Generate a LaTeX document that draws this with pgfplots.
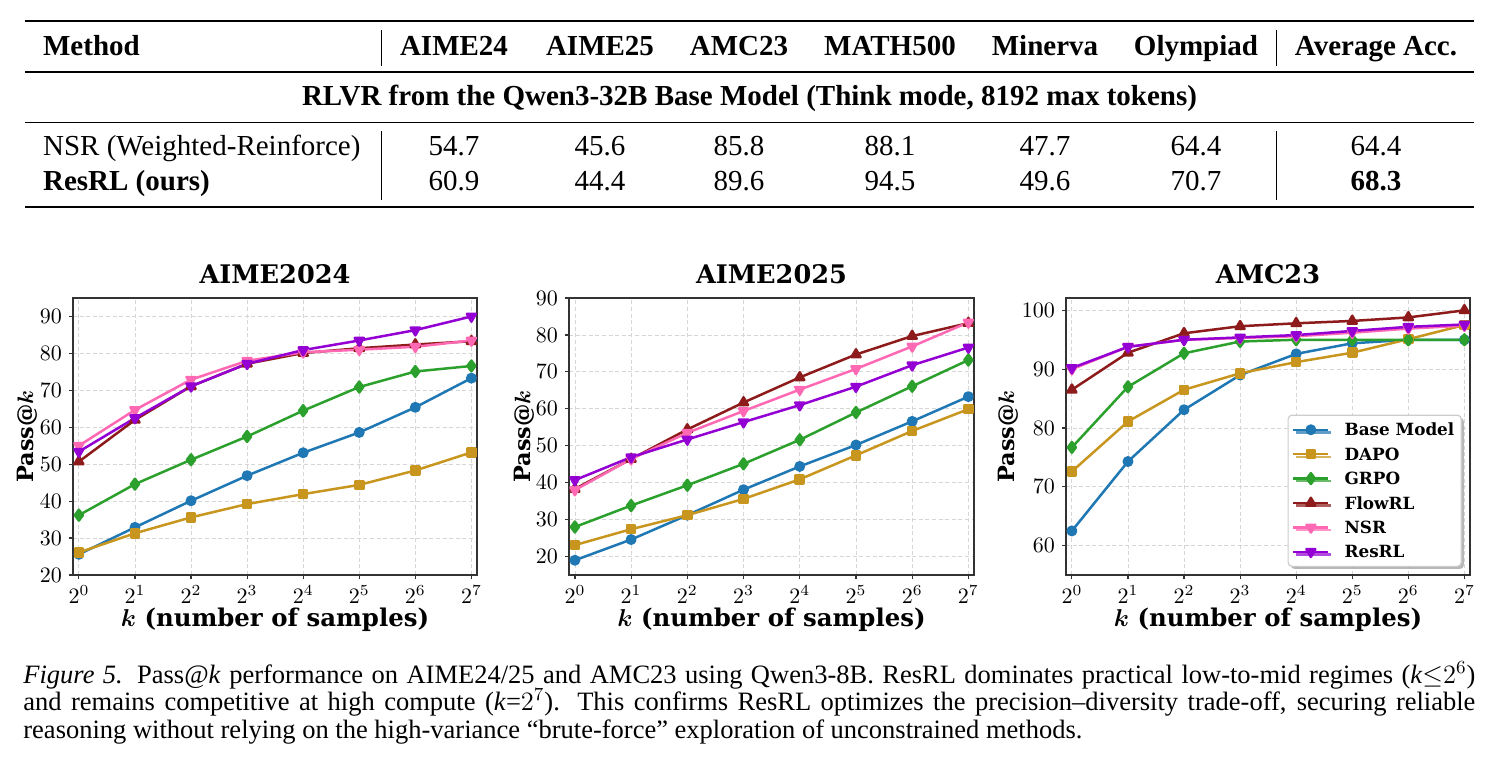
\RequirePackage{fix-cm}
\documentclass[border=0pt]{standalone}
\usepackage{fontspec}
\setmainfont{Liberation Serif}
\newfontfamily\djv{DejaVu Serif}
\usepackage{pgfplots}
\pgfplotsset{compat=1.18}
\usetikzlibrary{shadows}

\definecolor{cBase}{HTML}{1F77B4}
\definecolor{cDapo}{HTML}{C8961E}
\definecolor{cGrpo}{HTML}{2CA02C}
\definecolor{cFlow}{HTML}{8E1B1B}
\definecolor{cNsr}{HTML}{FF69B4}
\definecolor{cRes}{HTML}{9400D3}

\newcommand{\tabfont}{\fontsize{14.5}{17}\selectfont}
\newcommand{\capfont}{\fontsize{13.25}{16}\selectfont}

\pgfplotsset{
  passk/.style={
    scale only axis, width=202pt, height=138.5pt,
    anchor=north west, clip=false,
    xmin=-0.105, xmax=7.1,
    xtick={0,...,7},
    xticklabels={$2^{0}$,$2^{1}$,$2^{2}$,$2^{3}$,$2^{4}$,$2^{5}$,$2^{6}$,$2^{7}$},
    tick pos=left, tick align=outside, major tick length=2pt,
    grid=major,
    major grid style={dash pattern=on 2pt off 1.3pt, line width=0.4pt, black!16},
    axis line style={line width=0.6pt, black!80},
    tick style={line width=0.6pt, black!80},
    tick label style={font=\fontsize{11}{12}\selectfont},
    every axis title/.style={at={(axis description cs:0.5,1)}, anchor=center, yshift=12pt,
      font=\djv\bfseries\fontsize{12.8}{14}\selectfont},
    every axis x label/.style={at={(axis description cs:0.5,0)}, anchor=center, yshift=-22.5pt,
      font=\djv\bfseries\fontsize{12.2}{14}\selectfont},
    every axis y label/.style={anchor=center, rotate=90,
      font=\djv\bfseries\fontsize{11.2}{12}\selectfont},
    xlabel={{\boldmath$k$} (number of samples)},
    ylabel={Pass@{\boldmath$k$}},
    every axis plot/.append style={line width=1.25pt, line join=round},
    legend image code/.code={%
      \draw[mark repeat=2, mark phase=2, #1] plot coordinates {(0pt,0pt) (8.75pt,0pt) (17.5pt,0pt)};},
  },
  sBase/.style={color=cBase, mark=*, mark size=2.1pt},
  sDapo/.style={color=cDapo, mark=square*, mark size=2.0pt},
  sGrpo/.style={color=cGrpo, mark=diamond*, mark size=2.7pt},
  sFlow/.style={color=cFlow, mark=triangle*, mark size=2.6pt},
  sNsr/.style={color=cNsr, mark=triangle*, mark size=2.6pt, mark options={rotate=180}},
  sRes/.style={color=cRes, mark=triangle*, mark size=2.6pt, mark options={rotate=180}},
}

\begin{document}
\begin{tikzpicture}
\path[use as bounding box] (0,0) rectangle (748pt,-381pt);

% ---------------- table ----------------
\begin{scope}[x=0.5pt,y=-0.5pt]
  \draw[line width=1.15pt] (25,21) -- (1474,21);
  \draw[line width=0.7pt] (25,72) -- (1474,72);
  \draw[line width=0.7pt] (25,122.3) -- (1474,122.3);
  \draw[line width=1.15pt] (25,207.3) -- (1474,207.3);
  \foreach \xx in {381.7,1276.7}{
    \draw[line width=0.5pt] (\xx,30) -- (\xx,65.7);
    \draw[line width=0.5pt] (\xx,131) -- (\xx,200);
  }
  \begin{scope}[every node/.style={inner sep=0pt, font=\tabfont}]
    % header
    \node[anchor=base west] at (42.7,55.7) {\textbf{Method}};
    \foreach \xx/\tt in {454/AIME24, 600/AIME25, 739/AMC23, 890/MATH500, 1045/Minerva, 1196/Olympiad, 1376/Average Acc.}
      \node[anchor=base] at (\xx,55.7) {\textbf{\tt}};
    % group row
    \node[anchor=base] at (749.5,105.7) {\textbf{RLVR from the Qwen3-32B Base Model (Think mode, 8192 max tokens)}};
    % rows
    \node[anchor=base west] at (42.7,155) {NSR (Weighted-Reinforce)};
    \node[anchor=base west] at (42.7,190.7) {\textbf{ResRL (ours)}};
    \foreach \xx/\va/\vb in {454/54.7/60.9, 600/45.6/44.4, 739/85.8/89.6, 890/88.1/94.5, 1045/47.7/49.6, 1196/64.4/70.7}{
      \node[anchor=base] at (\xx,155) {\va};
      \node[anchor=base] at (\xx,190.7) {\vb};
    }
    \node[anchor=base] at (1376,155) {64.4};
    \node[anchor=base] at (1376,190.7) {\textbf{68.3}};
  \end{scope}

% ---------------- caption ----------------
  \begin{scope}[every node/.style={inner sep=0pt, font=\capfont, anchor=base west}]
    \node at (23,683) {\hbox to 726pt{\textit{Figure 5.} Pass@\textit{k} performance on AIME24/25 and AMC23 using Qwen3-8B. ResRL dominates practical low-to-mid regimes (\textit{k}$\leq$$2^{6}$)}};
    \node at (23,710.5) {\hbox to 726pt{and remains competitive at high compute (\textit{k}=$2^{7}$). This confirms ResRL optimizes the precision–diversity trade-off, securing reliable}};
    \node at (23,738) {reasoning without relying on the high-variance “brute-force” exploration of unconstrained methods.};
  \end{scope}
\end{scope}

% ---------------- AIME2024 ----------------
\begin{axis}[passk, at={(36.5pt,-149pt)}, title={AIME2024},
  ymin=20, ymax=95, ytick={20,30,...,90},
  ylabel style={at={(axis description cs:-0.114,0.5)}}]
  \addplot[sBase] coordinates {(0,25.6)(1,32.9)(2,40.1)(3,46.9)(4,53.1)(5,58.6)(6,65.4)(7,73.3)};
  \addplot[sDapo] coordinates {(0,26.1)(1,31.3)(2,35.6)(3,39.2)(4,41.9)(5,44.4)(6,48.3)(7,53.2)};
  \addplot[sGrpo] coordinates {(0,36.2)(1,44.6)(2,51.2)(3,57.5)(4,64.5)(5,70.9)(6,75.1)(7,76.6)};
  \addplot[sFlow] coordinates {(0,50.7)(1,62.0)(2,71.1)(3,77.2)(4,80.1)(5,81.4)(6,82.4)(7,83.3)};
  \addplot[sNsr]  coordinates {(0,55.0)(1,64.7)(2,72.9)(3,78.0)(4,80.3)(5,81.0)(6,81.8)(7,83.5)};
  \addplot[sRes]  coordinates {(0,53.4)(1,62.5)(2,71.1)(3,77.2)(4,80.9)(5,83.5)(6,86.3)(7,90.0)};
\end{axis}

% ---------------- AIME2025 ----------------
\begin{axis}[passk, at={(284.5pt,-149pt)}, width=202.5pt, title={AIME2025},
  ymin=15, ymax=90, ytick={20,30,...,90},
  ylabel style={at={(axis description cs:-0.111,0.5)}}]
  \addplot[sBase] coordinates {(0,19.0)(1,24.6)(2,31.2)(3,38.1)(4,44.4)(5,50.2)(6,56.6)(7,63.3)};
  \addplot[sDapo] coordinates {(0,23.1)(1,27.4)(2,31.2)(3,35.6)(4,40.9)(5,47.4)(6,54.0)(7,59.9)};
  \addplot[sGrpo] coordinates {(0,28.0)(1,33.8)(2,39.3)(3,45.1)(4,51.6)(5,59.0)(6,66.1)(7,73.2)};
  \addplot[sFlow] coordinates {(0,38.3)(1,46.4)(2,54.4)(3,61.7)(4,68.5)(5,74.7)(6,79.7)(7,83.2)};
  \addplot[sNsr]  coordinates {(0,38.0)(1,46.4)(2,53.5)(3,59.4)(4,65.2)(5,70.8)(6,76.9)(7,83.4)};
  \addplot[sRes]  coordinates {(0,40.7)(1,46.9)(2,51.7)(3,56.4)(4,61.0)(5,66.0)(6,71.8)(7,76.6)};
\end{axis}

% ---------------- AMC23 ----------------
\begin{axis}[passk, at={(533pt,-149pt)}, title={AMC23},
  ymin=55, ymax=102.1, ytick={60,70,...,100},
  ylabel style={at={(axis description cs:-0.1436,0.5)}},
  legend cell align=left,
  legend style={at={(axis description cs:0.98,0.029)}, anchor=south east,
    font=\djv\bfseries\fontsize{8.4}{10}\selectfont,
    draw=black!20, line width=0.6pt, rounded corners=2pt, fill=white,
    drop shadow={shadow xshift=1.3pt, shadow yshift=-1.3pt, fill=black!40, opacity=0.7},
    row sep=0pt, column sep=6pt, inner xsep=2pt, inner ysep=1.2pt,
    nodes={inner xsep=1.5pt, inner ysep=3pt, text height=6.2pt, text depth=0pt}}]
  \addplot[sBase] coordinates {(0,62.5)(1,74.3)(2,83.1)(3,89.0)(4,92.6)(5,94.4)(6,95.0)(7,95.0)};
  \addplot[sDapo] coordinates {(0,72.6)(1,81.1)(2,86.5)(3,89.3)(4,91.2)(5,92.8)(6,95.1)(7,97.5)};
  \addplot[sGrpo] coordinates {(0,76.7)(1,87.0)(2,92.7)(3,94.7)(4,95.0)(5,95.0)(6,95.0)(7,95.0)};
  \addplot[sFlow] coordinates {(0,86.5)(1,92.8)(2,96.1)(3,97.3)(4,97.8)(5,98.2)(6,98.8)(7,100.0)};
  \addplot[sNsr]  coordinates {(0,90.0)(1,93.8)(2,95.0)(3,95.3)(4,95.6)(5,96.2)(6,96.9)(7,97.4)};
  \addplot[sRes]  coordinates {(0,90.2)(1,93.8)(2,95.0)(3,95.4)(4,95.8)(5,96.5)(6,97.2)(7,97.6)};
  \legend{Base Model, DAPO, GRPO, FlowRL, NSR, ResRL}
\end{axis}
\end{tikzpicture}
\end{document}
